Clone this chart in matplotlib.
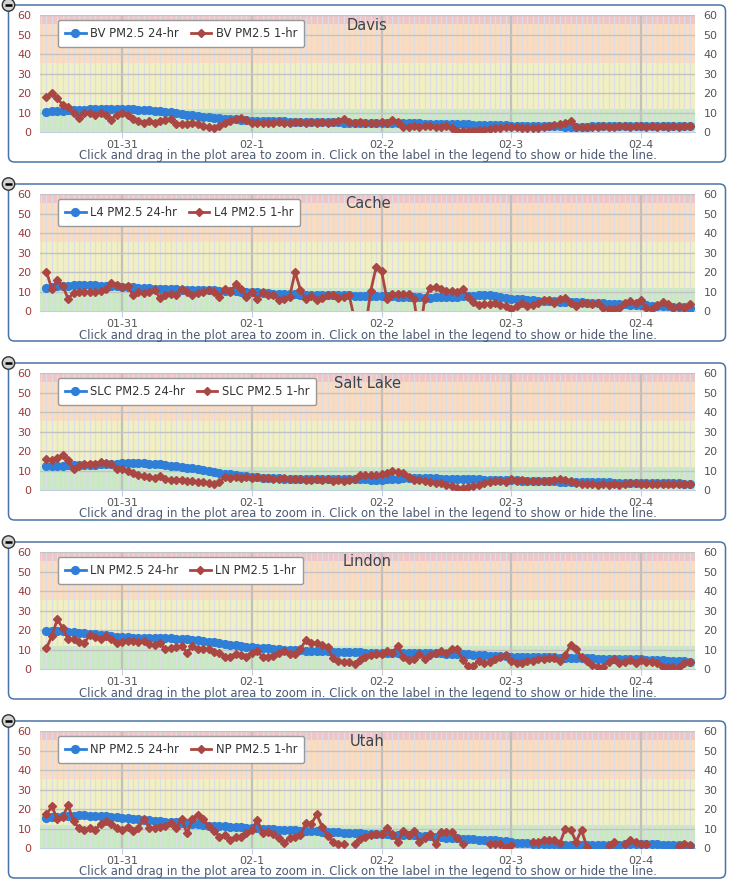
import numpy as np
import matplotlib
matplotlib.use('Agg')
import matplotlib.pyplot as plt
from matplotlib.patches import FancyBboxPatch, Circle

# hourly samples, hours counted from 01-31 00:00 (01-30 10:00 .. 02-4 09:00)
hours = np.arange(-14, 106)
day_ticks = [0, 24, 48, 72, 96]
day_labels = ['01-31', '02-1', '02-2', '02-3', '02-4']

sites = ['Davis', 'Cache', 'Salt Lake', 'Lindon', 'Utah']
codes = ['BV', 'L4', 'SLC', 'LN', 'NP']

nan = np.nan

davis_24 = [10.6, 10.8, 11.0, 11.1, 11.2, 11.3, 11.5, 11.6, 11.7, 11.8, 11.8, 11.9, 11.9, 11.9,
            11.9, 11.8, 11.7, 11.6, 11.5, 11.3, 11.1, 10.9, 10.6, 10.2, 9.8, 9.4, 8.9, 8.6, 8.3, 8.0, 7.7, 7.4, 7.2, 7.0, 6.8, 6.6, 6.4, 6.2,
            6.0, 5.9, 5.9, 5.8, 5.7, 5.6, 5.6, 5.5, 5.5, 5.4, 5.4, 5.3, 5.3, 5.2, 5.2, 5.1, 5.1, 5.0, 5.0, 5.0, 5.0, 5.0, 5.0, 5.0,
            5.0, 4.9, 4.9, 4.8, 4.8, 4.7, 4.6, 4.6, 4.5, 4.5, 4.4, 4.4, 4.3, 4.3, 4.2, 4.1, 4.0, 3.9, 3.8, 3.8, 3.7, 3.6, 3.6, 3.5,
            3.4, 3.4, 3.3, 3.3, 3.2, 3.2, 3.1, 3.1, 3.0, 3.0, 2.9, 2.9, 2.9, 2.9, 2.9, 3.0, 3.0, 3.0, 3.0, 3.0, 3.0, 3.0, 3.0, 3.0,
            3.0, 3.0, 3.0, 3.0, 3.0, 3.0, 3.0, 3.0, 3.0, 3.0]
davis_1 = [18, 20, 17.5, 14, 13, 10, 7.5, 10, 10, 9, 10, 9, 6.5, 9,
           10, 9, 7, 6, 5, 6, 5, 6, 6.5, 7, 4.5, 4.5, 4.5, 5, 4.3, 3.3, 2.5, 2.4, 3.3, 5, 6, 6.7, 7.5, 6.3,
           5, 5, 4.6, 5, 4.6, 5.1, 5, 4.6, 5.1, 5.5, 5, 5.5, 5, 5.5, 5, 5.5, 6, 6.7, 5.5, 5, 5.5, 4.6, 5, 4.6,
           5.5, 4.6, 6.3, 5.5, 2.9, 2.6, 3.2, 2.6, 3, 3, 2.6, 2.6, 3, 2, 0.9, 0.9, 0.7, 0.9, 1.2, 1.2, 1.5, 2, 2.4, 2.6,
           2.9, 2.6, 2.4, 2, 2, 2.4, 2.6, 3.2, 3.8, 4.3, 4.6, 6, 2.9, 2.9, 2.9, 2.6, 2.9, 3.2, 2.9, 2.9, 3.2, 3.2, 2.9, 3.2,
           3.2, 2.9, 3.2, 2.9, 3.2, 2.9, 3.2, 2.9, 3.2, 3.0]

cache_24 = [12.1, 12.4, 12.7, 12.9, 13.1, 13.2, 13.3, 13.3, 13.3, 13.2, 13.1, 13.0, 12.9, 12.8,
            12.6, 12.5, 12.3, 12.1, 11.9, 11.7, 11.6, 11.5, 11.4, 11.3, 11.2, 11.1, 11.0, 10.9, 10.9, 10.8, 10.8, 10.7, 10.6, 10.5, 10.4, 10.3, 10.1, 10.0,
            9.9, 9.7, 9.5, 9.3, 9.1, 8.9, 8.8, 8.7, 8.6, 8.5, 8.5, 8.4, 8.4, 8.3, 8.3, 8.2, 8.2, 8.1, 8.1, 8.0, 8.0, 7.9, 7.9, 7.8,
            7.8, 7.7, 7.6, 7.5, 7.4, 7.3, 7.2, 7.1, 7.0, 7.0, 7.1, 7.2, 7.3, 7.4, 7.5, 7.6, 7.8, 8.0, 8.1, 8.2, 8.2, 8.0, 7.5, 7.0,
            6.5, 6.3, 6.1, 5.9, 5.7, 5.5, 5.3, 5.2, 5.1, 5.0, 4.9, 4.8, 4.7, 4.6, 4.4, 4.3, 4.1, 4.0, 3.8, 3.7, 3.6, 3.5, 3.3, 3.2,
            3.1, 3.0, 2.9, 2.8, 2.6, 2.5, 2.3, 2.2, 2.0, 1.9]
cache_1 = [20.3, 11.2, 16, 13, 6.5, 9.2, 9.9, 9.9, 9.9, 9.9, 10.4, 11.6, 14.7, 13.3,
           12.6, 13, 8.2, 9.9, 9.2, 9.9, 10.9, 6.8, 8.2, 9, 8.2, 11.6, 9.9, 8.2, 9.2, 9.9, 10.9, 9.9, 7.5, 11.6, 9.9, 13.8, 11.6, 7.5,
           9.9, 6.5, 9.9, 8.2, 8.2, 5.8, 6.5, 7.5, 20.1, 10.9, 6.1, 7.8, 5.8, 7, 8.2, 8.2, 7, 7.5, 8.2, -4, -8, -9, 10.4, 22.7,
           20.6, 6.1, 8.7, 8.7, 8.7, 8.7, 6.1, -13, 6.5, 11.8, 12.6, 11.2, 10.4, 10.4, 9.9, 11.6, 7.5, 4.8, 3.1, 3.6, 3.6, 4.4, 3.1, 2.7,
           1, 2.7, 4.4, 2.7, 3.1, 4.4, 5.8, 5.8, 4.4, 6.5, 7, 4.4, 2.7, 4.1, 4.4, 3.6, 4.1, 1.9, 1, 1.4, 1.9, 4.1, 5.3, 4.1,
           5.8, 1.9, 1.4, 3.1, 4.8, 3.6, 1.9, 2.7, 1.9, 3.6]

slc_24 = [12.4, 12.5, 12.5, 12.6, 12.7, 12.7, 12.8, 12.9, 13.0, 13.1, 13.3, 13.4, 13.5, 13.7,
          13.8, 13.8, 13.9, 13.9, 13.8, 13.7, 13.5, 13.2, 12.8, 12.5, 12.2, 11.9, 11.6, 11.2, 10.7, 10.3, 9.8, 9.4, 9.0, 8.5, 8.1, 7.8, 7.4, 7.1,
          6.9, 6.7, 6.5, 6.3, 6.2, 6.1, 6.0, 5.9, 5.9, 5.9, 5.9, 5.9, 5.9, 5.9, 5.9, 5.9, 5.8, 5.8, 5.7, 5.7, 5.6, 5.6, 5.5, 5.5,
          5.5, 5.6, 5.8, 6.0, 6.2, 6.3, 6.4, 6.4, 6.3, 6.2, 6.1, 6.0, 6.0, 5.9, 5.9, 5.8, 5.7, 5.7, 5.6, 5.5, 5.5, 5.4, 5.3, 5.3,
          5.2, 5.1, 5.0, 4.9, 4.8, 4.8, 4.7, 4.6, 4.6, 4.5, 4.4, 4.4, 4.3, 4.2, 4.1, 4.1, 4.0, 4.0, 4.0, 3.9, 3.9, 3.9, 3.8, 3.8,
          3.8, 3.7, 3.7, 3.7, 3.6, 3.6, 3.5, 3.5, 3.4, 3.4]
slc_1 = [15.9, 15.5, 16.7, 17.9, 15.5, 10.7, 12.4, 13.3, 13.3, 13.3, 14.5, 13.8, 13.3, 11,
         10.7, 9.8, 9, 7.6, 7.2, 6.9, 6.4, 7.2, 5.9, 5.2, 5.5, 5.2, 4.7, 4.7, 4.1, 4.1, 3.8, 3.4, 4.1, 6.9, 6.4, 6.9, 6.4, 6.9,
         6.4, 6.9, 6.4, 6.4, 5.9, 5.9, 6.4, 5.9, 5.9, 5.9, 5.5, 5.5, 5.9, 5.5, 5.9, 4.7, 5.2, 4.7, 5.2, 5.9, 7.6, 7.6, 7.6, 7.6,
         8.1, 9, 9.8, 9.3, 9, 6.9, 5.2, 5.2, 4.7, 4.1, 3.8, 3.8, 2.9, 2.1, 1.2, 1.2, 1.7, 2.1, 2.9, 3.8, 4.1, 4.7, 4.7, 4.1,
         5.9, 4.7, 5.2, 4.7, 4.7, 4.7, 4.7, 4.7, 5.2, 5.9, 5.2, 4.7, 3.8, 3.4, 3.4, 3.4, 2.9, 3.4, 2.9, 3.4, 2.9, 3.4, 3.8, 3.8,
         3.4, 3.2, 3.4, 3.2, 3.4, 3.2, 3.4, 3.2, 3.4, 3.2]

lindon_24 = [19.7, 19.6, 19.5, 19.4, 19.3, 19.1, 18.8, 18.5, 18.2, 17.9, 17.6, 17.3, 17.0, 16.7,
             16.4, 16.3, 16.1, 16.0, 15.9, 15.9, 15.9, 15.9, 15.9, 15.8, 15.7, 15.6, 15.4, 15.1, 14.8, 14.5, 14.2, 13.8, 13.4, 12.9, 12.5, 12.2, 11.9, 11.6,
             11.3, 11.1, 10.9, 10.7, 10.5, 10.3, 10.1, 9.9, 9.8, 9.7, 9.6, 9.5, 9.4, 9.3, 9.2, 9.1, 9.0, 8.9, 8.8, 8.7, 8.6, 8.5, 8.4, 8.3,
             8.2, 8.3, 8.3, 8.4, 8.4, 8.5, 8.5, 8.5, 8.4, 8.3, 8.2, 8.1, 8.0, 8.0, 7.9, 7.8, 7.7, 7.5, 7.4, 7.2, 7.0, 6.9, 6.8, 6.6,
             6.5, 6.5, 6.4, 6.4, 6.3, 6.3, 6.2, 6.1, 6.1, 6.0, 5.9, 5.9, 5.8, 5.7, 5.6, 5.6, 5.5, 5.5, 5.4, 5.4, 5.3, 5.3, 5.2, 5.2,
             5.1, 5.0, 4.9, 4.8, 4.7, 4.5, 4.4, 4.2, 4.0, 3.9]
lindon_1 = [10.8, 17.1, 25.6, 21, 15.4, 15.4, 14.2, 13.3, 17.6, 16.4, 15.4, 17.1, 15.4, 13.3,
            14.2, 14.7, 14.7, 14.2, 14.7, 13, 12.5, 13.3, 10.3, 10.8, 11.3, 12, 8.5, 12, 10.3, 10.3, 10.3, 9.1, 8.2, 6.5, 6.5, 7.9, 7.4, 6.5,
            8.5, 9.6, 6.2, 6.5, 6.8, 8.5, 9.6, 7.9, 7.9, 10.3, 15, 13.3, 13.7, 12.5, 11.3, 5.6, 4.4, 3.9, 3.9, 2.7, 4.8, 6.5, 7.4, 7.9,
            7.9, 9.6, 8.5, 12, 6.5, 4.8, 5.1, 7.9, 5.1, 7.4, 8.5, 9.6, 8.5, 10.3, 10.3, 4.8, 1.7, 1.7, 4.4, 3.4, 3.9, 5.1, 6.5, 7.4,
            4.4, 3.4, 3.1, 4.4, 4.4, 5.1, 5.1, 5.6, 5.6, 4.4, 7.4, 12.5, 10.3, 6.2, 4.4, 2.2, 1.4, 1.4, 3.9, 5.1, 3.4, 3.9, 4.8, 3.4,
            4.8, 3.9, 3.9, 3.4, 1.4, 1.4, 1.4, 1, 3.4, 3.9]

utah_24 = [15.7, 15.9, 16.1, 16.3, 16.5, 16.7, 16.8, 16.8, 16.7, 16.6, 16.5, 16.3, 16.1, 15.9,
           15.7, 15.4, 15.1, 14.8, 14.5, 14.3, 14.1, 13.9, 13.7, 13.5, 13.2, 13.0, 12.8, 12.5, 12.2, 11.9, 11.6, 11.5, 11.4, 11.2, 11.1, 10.9, 10.7, 10.5,
           10.3, 10.2, 10.0, 9.9, 9.8, 9.6, 9.5, 9.4, 9.2, 9.1, 8.9, 8.8, 8.7, 8.5, 8.4, 8.2, 8.1, 8.0, 7.8, 7.7, 7.6, 7.5, 7.4, 7.3,
           7.2, 7.1, 7.0, 6.9, 6.8, 6.7, 6.6, 6.5, 6.3, 6.1, 5.9, 5.7, 5.5, 5.3, 5.1, 4.9, 4.7, 4.6, 4.4, 4.2, 4.1, 4.0, 3.8, 3.5,
           3.1, 2.9, 2.7, 2.5, 2.3, 2.2, 2.1, 2.0, 2.0, 1.9, 1.9, 1.8, 1.8, 1.8, 1.7, 1.7, 1.7, 1.8, 1.8, 1.9, 1.9, 2.0, 2.0, 2.1,
           2.1, 2.1, 2.0, 2.0, 1.9, 1.8, 1.7, 1.6, 1.5, 1.4]
utah_1 = [17.4, 21.4, 15, 16.2, 21.9, 14, 10.3, 9.4, 10.6, 9.4, 12.3, 14, 12.3, 10.6,
          9.4, 11.1, 8.9, 10.3, 15, 10.6, 10.3, 11.1, 11.6, 12.8, 10.3, 15, 7.7, 15, 17.1, 15, 11.6, 8.9, 6, 6.8, 4.3, 6, 6, 7.7,
          9.4, 14.5, 7.7, 8.5, 7.2, 5.1, 2.6, 5.5, 6, 6.8, 12.8, 12.3, 17.4, 11.1, 6.5, 3.4, 2.1, 2.1, nan, 2.1, 4.8, 6, 6.8, 7.2,
          7.2, 10.6, 7.2, 3.4, 8.9, 6.8, 8.9, 3.4, 5.5, 7.2, 2.1, 8.2, 8.2, 8.2, 5.5, 2.1, nan, nan, nan, nan, 2.1, 2.1, 2.1, 0.3,
          1.7, nan, nan, nan, 3.4, 3.4, 4.3, 4.3, 4.3, 2.6, 9.9, 9.4, 3.4, 9.4, 0.5, nan, nan, nan, 1.4, 3.1, nan, 2.1, 4.3, 3.1,
          2.1, 2.1, nan, nan, nan, nan, nan, 1.4, 2.1, 1.7]

avg24 = [davis_24, cache_24, slc_24, lindon_24, utah_24]
hourly = [davis_1, cache_1, slc_1, lindon_1, utah_1]

# AQI colour bands (PM2.5 ug/m3)
bands = [(0, 12, '#c9e9c2'), (12, 35.5, '#f1f0c2'), (35.5, 55.5, '#fbdcc0'), (55.5, 60, '#efc5c6')]

W, H = 732, 885
fig = plt.figure(figsize=(W / 100, H / 100), dpi=100)
fig.patch.set_facecolor('white')

# overlay in pixel coordinates for the panel frames
ov = fig.add_axes([0, 0, 1, 1], zorder=0)
ov.set_xlim(0, W)
ov.set_ylim(H, 0)
ov.axis('off')

step = 179
caption = 'Click and drag in the plot area to zoom in. Click on the label in the legend to show or hide the line.'

for i in range(len(sites)):
    off = i * step
    top = 5 + off
    ov.add_patch(FancyBboxPatch((8.5, top), 717, 157, boxstyle='round,pad=0,rounding_size=6',
                                fc='white', ec='#4a74a6', lw=1.1))
    ov.add_patch(Circle((8.5, top), 6.2, fc='#d4d4d4', ec='#333333', lw=1.0, zorder=3))
    ov.plot([5.0, 12.0], [top, top], color='black', lw=1.8, zorder=4, solid_capstyle='butt')
    ov.text(368, 156 + off, caption, ha='center', va='center', fontsize=8.35, color='#4e5b73')

    ax = fig.add_axes([40 / W, 1 - (132.3 + off) / H, 655 / W, 117.3 / H], zorder=2)
    for lo, hi, c in bands:
        ax.axhspan(lo, hi, color=c, lw=0, zorder=0)
    for h in range(-15, 107):
        ax.axvline(h, color='#dcdde6', lw=0.9, zorder=0.5)
    for d in day_ticks:
        ax.axvline(d, color='#c0c0c0', lw=1.6, zorder=0.6)
    for yv in range(10, 61, 10):
        ax.axhline(yv, color='#c3c3c3', lw=1.0, zorder=0.6)

    ax.plot(hours, avg24[i], color='#2f7ed8', lw=2, marker='o', ms=5.6,
            label=codes[i] + ' PM2.5 24-hr', zorder=3)
    ax.plot(hours, hourly[i], color='#aa4643', lw=2, marker='D', ms=4.2,
            label=codes[i] + ' PM2.5 1-hr', zorder=4)

    ax.set_xlim(-15.2, 106)
    ax.set_ylim(0, 60)
    ax.set_xticks(day_ticks)
    ax.set_xticklabels(day_labels)
    ax.set_yticks(range(0, 61, 10))
    for s in ['top', 'left', 'right']:
        ax.spines[s].set_visible(False)
    ax.spines['bottom'].set_color('#c0d0e0')
    ax.tick_params(axis='x', length=4, color='#c0d0e0', labelsize=8, labelcolor='#555555', pad=1.5)
    ax.tick_params(axis='y', length=0, labelsize=8, labelcolor='#9c3a3a', pad=6)

    right = ax.secondary_yaxis('right')
    right.set_yticks(range(0, 61, 10))
    right.spines['right'].set_visible(False)
    right.tick_params(length=0, labelsize=8, labelcolor='#555555', pad=6)

    ax.text(0.5, 1 - 10 / 117.3, sites[i], transform=ax.transAxes, ha='center', va='center',
            fontsize=10.5, color='#3a4350', zorder=6)

    leg = ax.legend(ncol=2, loc='upper left', bbox_to_anchor=(18 / 655, 1 - 5 / 117.3), borderaxespad=0,
                    fontsize=8.3, frameon=True, fancybox=True, framealpha=1, facecolor='white',
                    edgecolor='#999999', handlelength=1.8, handletextpad=0.4, columnspacing=1.0,
                    borderpad=0.6, numpoints=1)
    leg.set_zorder(7)
    for t in leg.get_texts():
        t.set_color('#333333')

fig.savefig('out.png', dpi=100)
